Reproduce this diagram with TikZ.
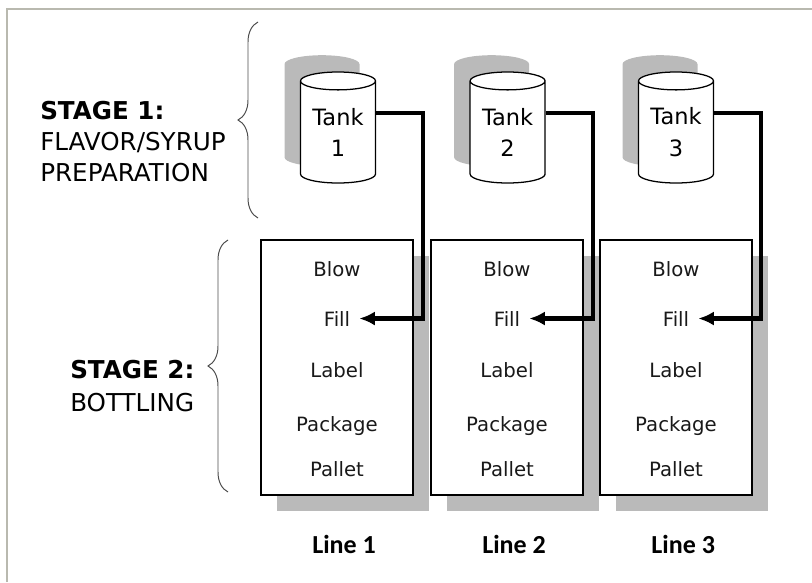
\documentclass[tikz,border=0pt]{standalone}
\usepackage{fontspec}
\setmainfont{DejaVu Sans}
\newfontfamily\calibfont{Carlito}
\usetikzlibrary{shapes.geometric,shadows,arrows.meta,decorations.pathreplacing}
\definecolor{framegray}{RGB}{185,185,175}
\definecolor{shadowgray}{RGB}{186,186,186}

\begin{document}
\begin{tikzpicture}[
    tank/.style={cylinder,shape border rotate=90,aspect=0.35,draw,line width=0.9pt,fill=white,
      minimum width=1.875cm,minimum height=2.775cm,inner sep=0pt,align=center,
      anchor=shape center,font=\fontsize{16}{22.5}\selectfont,
      drop shadow={shadow xshift=-0.4cm,shadow yshift=0.42cm,fill=shadowgray,opacity=1}},
    linebox/.style={draw,line width=1.2pt,fill=white,minimum width=3.8cm,minimum height=6.375cm,
      drop shadow={shadow xshift=0.4cm,shadow yshift=-0.4cm,fill=shadowgray,opacity=1}},
    task/.style={anchor=base,font=\fontsize{14}{16}\selectfont,text=black!90},
    linename/.style={anchor=base,font=\calibfont\bfseries\fontsize{18.5}{20}\selectfont},
    stage/.style={anchor=west,align=left,inner sep=0pt,font=\fontsize{17.5}{22}\selectfont},
    pipe/.style={line width=3pt,-{Latex[length=11pt,width=10pt]}},
    curly/.style={decorate,decoration={brace,amplitude=0.5cm},draw=black!70,line width=0.7pt}]

    \useasboundingbox (0,0) rectangle (20.3,-14.55);
    \draw[framegray,line width=1.4pt] (0.175,-14.55) -- (0.175,-0.225) -- (20.3,-0.225);

    % stage 1
    \node[stage] (s1) at (1.0,-3.53) {\textbf{STAGE 1:}\\FLAVOR/SYRUP\\PREPARATION};
    \draw[curly] (6.45,-5.45) -- (6.45,-0.55);

    \node[tank] (t1) at (8.45,-3.1875) {Tank\\1};
    \node[tank] (t2) at (12.69,-3.1875) {Tank\\2};
    \node[tank] (t3) at (16.9,-3.1875) {Tank\\3};

    % stage 2
    \node[stage,font=\fontsize{17.5}{23.5}\selectfont] (s2) at (1.75,-9.64) {\textbf{STAGE 2:}\\BOTTLING};
    \draw[curly] (5.7,-12.3) -- (5.7,-6.0);

    \node[linebox] (l1) at (8.425,-9.19) {};
    \node[linebox] (l2) at (12.675,-9.19) {};
    \node[linebox] (l3) at (16.9,-9.19) {};

    \node[task] (b1) at (8.425,-6.92) {Blow};
    \node[task] (f1) at (8.425,-8.15) {Fill};
    \node[task] (a1) at (8.425,-9.44) {Label};
    \node[task] (k1) at (8.425,-10.79) {Package};
    \node[task] (p1) at (8.425,-11.92) {Pallet};

    \node[task] (b2) at (12.675,-6.92) {Blow};
    \node[task] (f2) at (12.675,-8.15) {Fill};
    \node[task] (a2) at (12.675,-9.44) {Label};
    \node[task] (k2) at (12.675,-10.79) {Package};
    \node[task] (p2) at (12.675,-11.92) {Pallet};

    \node[task] (b3) at (16.9,-6.92) {Blow};
    \node[task] (f3) at (16.9,-8.15) {Fill};
    \node[task] (a3) at (16.9,-9.44) {Label};
    \node[task] (k3) at (16.9,-10.79) {Package};
    \node[task] (p3) at (16.9,-11.92) {Pallet};

    \node[linename] (n1) at (8.6,-13.83) {Line 1};
    \node[linename] (n2) at (12.85,-13.83) {Line 2};
    \node[linename] (n3) at (17.08,-13.83) {Line 3};

    \draw[pipe] (t1.27) -- ++(1.175,0) |- ([xshift=3pt]f1.east);
    \draw[pipe] (t2.27) -- ++(1.175,0) |- ([xshift=3pt]f2.east);
    \draw[pipe] (t3.27) -- ++(1.175,0) |- ([xshift=3pt]f3.east);
\end{tikzpicture}
\end{document}
